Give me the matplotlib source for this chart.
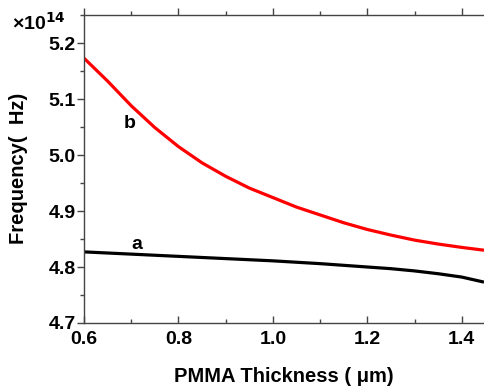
import matplotlib
matplotlib.use("Agg")
import matplotlib.pyplot as plt
from matplotlib.ticker import MultipleLocator, FormatStrFormatter
import matplotlib.markers as mmarkers

plt.rcParams['font.family'] = ['Liberation Sans', 'DejaVu Sans']
plt.rcParams['font.weight'] = 'bold'

thickness_b = [0.60, 0.65, 0.70, 0.75, 0.80, 0.85, 0.90, 0.95, 1.00, 1.05,
               1.10, 1.15, 1.20, 1.25, 1.30, 1.35, 1.40, 1.447]
freq_b = [5.173, 5.132, 5.088, 5.049, 5.015, 4.986, 4.962, 4.941, 4.924, 4.907,
          4.893, 4.879, 4.867, 4.857, 4.848, 4.841, 4.835, 4.830]
thickness_a = [0.60, 0.70, 0.80, 0.90, 1.00, 1.10, 1.20, 1.25, 1.30, 1.35, 1.40, 1.447]
freq_a = [4.827, 4.823, 4.819, 4.815, 4.811, 4.806, 4.800, 4.797, 4.793, 4.788, 4.782, 4.773]

fig = plt.figure(figsize=(4.84, 3.89), dpi=100)
ax = fig.add_axes([0.1736, 0.1697, 0.8264, 0.7930])

ax.plot(thickness_b, freq_b, color='#ff0000', lw=2.3, solid_capstyle='butt', solid_joinstyle='round')
ax.plot(thickness_a, freq_a, color='black', lw=2.3, solid_capstyle='butt', solid_joinstyle='round')

ax.set_xlim(0.6, 1.447)
ax.set_ylim(4.7, 5.251)

ax.xaxis.set_major_locator(MultipleLocator(0.2))
ax.xaxis.set_minor_locator(MultipleLocator(0.1))
ax.yaxis.set_major_locator(MultipleLocator(0.1))
ax.yaxis.set_minor_locator(MultipleLocator(0.05))
ax.xaxis.set_major_formatter(FormatStrFormatter('%.1f'))
ax.yaxis.set_major_formatter(FormatStrFormatter('%.1f'))

for s in ['left', 'top', 'bottom']:
    ax.spines[s].set_color('#444444')
    ax.spines[s].set_linewidth(1.0)
ax.spines['right'].set_visible(False)

ax.tick_params(axis='y', which='both', direction='out', left=True, right=False,
               labelsize=14, color='#444444', width=1.0, pad=1)
ax.tick_params(axis='y', which='major', length=5)
ax.tick_params(axis='y', which='minor', length=3)
ax.tick_params(axis='x', which='both', direction='in', bottom=True, top=True,
               labelsize=14, color='#444444', width=1.0, pad=6)
ax.tick_params(axis='x', which='major', length=5)
ax.tick_params(axis='x', which='minor', length=3)
for lab in ax.get_xticklabels() + ax.get_yticklabels():
    lab.set_fontweight('bold')

for t in ax.xaxis.get_major_ticks() + ax.xaxis.get_minor_ticks():
    t.tick2line.set_marker(mmarkers.TICKUP)

ax.set_xlabel('PMMA Thickness ( \u03bcm)', fontsize=14.5, fontweight='bold')
ax.set_ylabel('Frequency(  Hz)', fontsize=14.5, fontweight='bold')
ax.xaxis.set_label_coords(0.5, -0.142)
ax.yaxis.set_label_coords(-0.14, 0.5)

fig.text(12 / 484, 1 - 23 / 389, '\u00d710$^{14}$', fontsize=14, fontweight='bold',
         va='center', ha='left')

ax.text(0.697, 5.056, 'b', fontsize=14, fontweight='bold', ha='center', va='center')
ax.text(0.712, 4.840, 'a', fontsize=14, fontweight='bold', ha='center', va='center')

fig.savefig('out.png', dpi=100)
